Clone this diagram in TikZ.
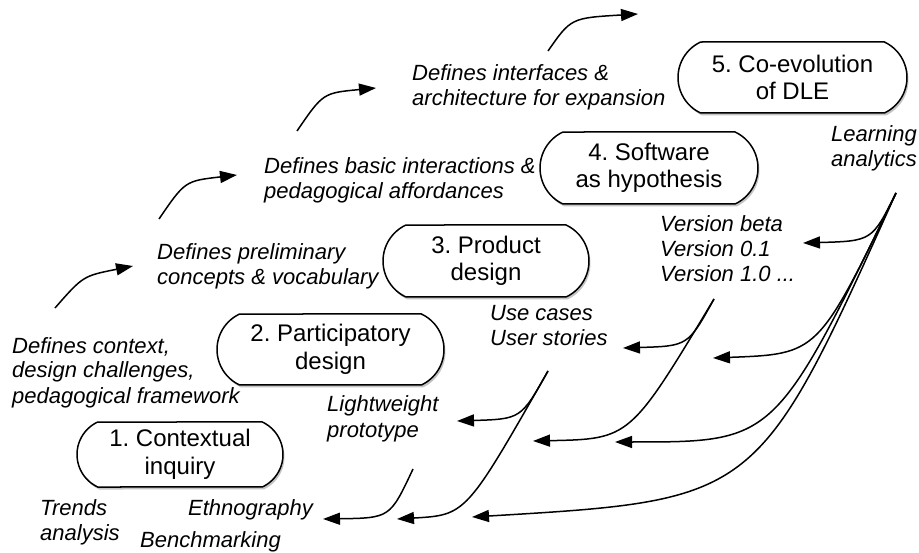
\documentclass[tikz,border=0pt]{standalone}
\usepackage{fontspec}
\setmainfont{Liberation Sans}
\usetikzlibrary{arrows.meta,shapes.misc,shadows}
\tikzset{
  phase/.style={rounded rectangle, rounded rectangle arc length=130, draw, line width=1.5pt,
    fill=white, font=\fontsize{24}{27.5}\selectfont, align=center, inner sep=0pt,
    drop shadow={shadow xshift=1.5pt, shadow yshift=-2.5pt, opacity=0.45}},
  lbl/.style={font=\fontsize{22}{25}\selectfont\itshape, align=left, anchor=base west, inner sep=0pt},
  flow/.style={line width=1.5pt, -{Triangle[length=17pt,width=12pt]}},
}
\frenchspacing
\begin{document}
\frenchspacing
\begin{tikzpicture}[x=1pt,y=-1pt]
\fill[white] (0,0) rectangle (919,553);
\useasboundingbox (0,0) rectangle (919,553);

% phase boxes
\node[phase, minimum width=206pt, minimum height=65pt] (p1) at (180,454.5) {1. Contextual\\inquiry};
\node[phase, minimum width=227pt, minimum height=71pt] (p2) at (330.5,349.5) {2. Participatory\\design};
\node[phase, minimum width=206pt, minimum height=72pt] (p3) at (486,261) {3. Product\\design};
\node[phase, minimum width=218pt, minimum height=72pt] (p4) at (649,168) {4. Software\\as hypothesis};
\node[phase, minimum width=229pt, minimum height=71pt] (p5) at (792.5,77.5) {5. Co-evolution\\of DLE};

% labels (anchor = baseline of the last line)
\node[lbl] (d1) at (12,403) {Defines context,\\design challenges,\\pedagogical framework};
\node[lbl] (d2) at (157,285) {Defines preliminary\\concepts \& vocabulary};
\node[lbl] (d3) at (264,199) {Defines basic interactions \&\\pedagogical affordances};
\node[lbl] (d4) at (412,106) {Defines interfaces \&\\architecture for expansion};
\node[lbl] (la) at (831,167) {Learning\\analytics};
\node[lbl] (ve) at (660,282) {Version beta\\Version 0.1\\Version 1.0 ...};
\node[lbl] (uc) at (490,346) {Use cases\\User stories};
\node[lbl] (lw) at (327,437) {Lightweight\\prototype};
\node[lbl] (tr) at (40,540) {Trends\\analysis};
\node[lbl] (et) at (188,515) {Ethnography};
\node[lbl] (be) at (140,547) {Benchmarking};

% top progression arrows
\coordinate (aS) at (55,308);  \coordinate (aK) at (83,276);  \coordinate (aE) at (133,266);
\coordinate (bS) at (159,219); \coordinate (bK) at (185,181); \coordinate (bE) at (237,175);
\coordinate (cS) at (297,131); \coordinate (cK) at (323,93);  \coordinate (cE) at (376,88);
\coordinate (dS) at (548,51);  \coordinate (dK) at (571,18);  \coordinate (dE) at (638,14);
\draw[flow] (aS) .. controls (aK) .. (aE);
\draw[flow] (bS) .. controls (bK) .. (bE);
\draw[flow] (cS) .. controls (cK) .. (cE);
\draw[flow] (dS) .. controls (dK) .. (dE);

% feedback arrows: learning analytics
\coordinate (LS) at (896,193);
\coordinate (L1K) at (872,241); \coordinate (L1E) at (803,243);
\coordinate (L2K) at (818,354); \coordinate (L2E) at (713,358);
\coordinate (L3K) at (775,442); \coordinate (L3E) at (615,442);
\coordinate (L4K) at (758,500); \coordinate (L4E) at (472,517);
\draw[flow] (LS) .. controls (L1K) .. (L1E);
\draw[flow] (LS) .. controls (L2K) .. (L2E);
\draw[flow] (LS) .. controls (L3K) .. (L3E);
\draw[flow] (LS) .. controls (L4K) .. (L4E);

% versions
\coordinate (VS) at (714,299);
\coordinate (V1K) at (688,346); \coordinate (V1E) at (623,348);
\coordinate (V2K) at (630,439); \coordinate (V2E) at (533,441);
\draw[flow] (VS) .. controls (V1K) .. (V1E);
\draw[flow] (VS) .. controls (V2K) .. (V2E);

% use cases
\coordinate (US) at (548,371);
\coordinate (U1K) at (521,419); \coordinate (U1E) at (457,421);
\coordinate (U2K) at (466,515); \coordinate (U2E) at (397,519);
\draw[flow] (US) .. controls (U1K) .. (U1E);
\draw[flow] (US) .. controls (U2K) .. (U2E);

% lightweight prototype
\coordinate (WS) at (413,469);
\coordinate (WK) at (390,518); \coordinate (WE) at (323,519);
\draw[flow] (WS) .. controls (WK) .. (WE);
\end{tikzpicture}
\end{document}
